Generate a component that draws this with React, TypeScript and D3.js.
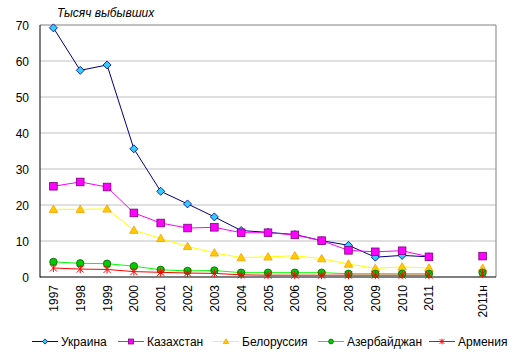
import React from "react";
import * as d3 from "d3";

const categories = ["1997","1998","1999","2000","2001","2002","2003","2004","2005","2006","2007","2008","2009","2010","2011","","2011н"];
const ukraine = [69.2,57.4,58.9,35.6,23.8,20.3,16.7,12.9,12.4,11.8,10.1,8.8,5.5,6.0,5.6,null,null];
const kazakhstan = [25.2,26.4,25.0,17.8,15.0,13.6,13.8,12.3,12.3,11.7,10.1,7.4,7.0,7.3,5.6,null,5.8];
const belarus = [18.8,18.8,18.9,13.0,10.7,8.5,6.7,5.4,5.6,5.9,5.1,3.6,2.4,2.8,2.5,null,2.4];
const azerbaijan = [4.2,3.8,3.7,3.0,2.0,1.7,1.8,1.2,1.2,1.2,1.2,0.9,0.9,0.9,0.9,null,1.2];
const armenia = [2.5,2.2,2.1,1.5,1.3,1.1,1.0,0.6,0.5,0.5,0.5,0.5,0.5,0.5,0.5,null,0.9];
const yTicks = [0,10,20,30,40,50,60,70];
const seriesNames = ["Украина","Казахстан","Белоруссия","Азербайджан","Армения"];

type Series = { name: string; values: (number|null)[]; line: string; fill: string; stroke: string; marker: string };
const series: Series[] = [
  { name: seriesNames[0], values: ukraine, line: "#000080", fill: "#33CCFF", stroke: "#000080", marker: "diamond" },
  { name: seriesNames[1], values: kazakhstan, line: "#FF00FF", fill: "#FF00FF", stroke: "#800080", marker: "square" },
  { name: seriesNames[2], values: belarus, line: "#FFFF00", fill: "#FFCC00", stroke: "#FF9900", marker: "triangle" },
  { name: seriesNames[3], values: azerbaijan, line: "#00FF00", fill: "#00CC00", stroke: "#006600", marker: "circle" },
  { name: seriesNames[4], values: armenia, line: "#FF0000", fill: "none", stroke: "#FF0000", marker: "star" },
];

const W = 518, H = 357;
const L = 40, T = 25, R = 496, B = 277;
const font = "'Liberation Sans', Arial, sans-serif";

function Marker({ kind, x, y, fill, stroke, k = 1 }: { kind: string; x: number; y: number; fill: string; stroke: string; k?: number }) {
  if (kind === "diamond") {
    const s = 4 * k;
    return <path d={`M${x},${y - s}L${x + s},${y}L${x},${y + s}L${x - s},${y}Z`} fill={fill} stroke={stroke} strokeWidth={0.8} />;
  }
  if (kind === "square") {
    const s = 3.8 * k;
    return <rect x={x - s} y={y - s} width={2 * s} height={2 * s} fill={fill} stroke={stroke} strokeWidth={0.8} />;
  }
  if (kind === "triangle") {
    const s = 4.2 * k;
    return <path d={`M${x},${y - s}L${x + s},${y + s * 0.75}L${x - s},${y + s * 0.75}Z`} fill={fill} stroke={stroke} strokeWidth={0.8} />;
  }
  if (kind === "circle") {
    return <circle cx={x} cy={y} r={3.7 * k} fill={fill} stroke={stroke} strokeWidth={0.8} />;
  }
  const s = 3.5 * k;
  return (
    <path
      d={`M${x - s},${y - s}L${x + s},${y + s}M${x - s},${y + s}L${x + s},${y - s}M${x},${y - s - 0.5}L${x},${y + s + 0.5}`}
      stroke={stroke}
      strokeWidth={1}
      fill="none"
    />
  );
}

export default function App() {
  const x = d3.scaleBand<string>().domain(categories.map((c, i) => i + "")).range([L, R]);
  const y = d3.scaleLinear().domain([0, 70]).range([B, T]);
  const cx = (i: number) => (x(i + "") as number) + x.bandwidth() / 2;
  const line = d3
    .line<number | null>()
    .defined((d) => d !== null)
    .x((_, i) => cx(i))
    .y((d) => y(d as number));

  const legendX = [32, 118, 213, 318, 429];
  const legendY = 341.5;

  return (
    <svg width={W} height={H} style={{ position: "absolute", left: 0, top: 0 }}>
      <rect width={W} height={H} fill="#fff" />
      {yTicks.map((t) => (
        <g key={t}>
          {t > 0 && t < 70 && <line x1={L} x2={R} y1={y(t)} y2={y(t)} stroke="#C0C0C0" strokeWidth={1} />}
          <text x={29} y={y(t) + 4.5} textAnchor="end" fontFamily={font} fontSize={12} fill="#000">
            {t}
          </text>
        </g>
      ))}
      <line x1={L} x2={R} y1={T} y2={T} stroke="#808080" />
      <line x1={R} x2={R} y1={T} y2={B} stroke="#808080" />
      <line x1={L} x2={L} y1={T} y2={B + 0.5} stroke="#000" />
      <line x1={L} x2={R} y1={B} y2={B} stroke="#000" strokeWidth={1.2} />
      <text x={57} y={17} fontFamily={font} fontSize={12} fontStyle="italic" fill="#000">
        Тысяч выбывших
      </text>
      {categories.map((c, i) => (
        <text
          key={i}
          transform={`translate(${cx(i) + 4.5},285) rotate(-90)`}
          textAnchor="end"
          fontFamily={font}
          fontSize={12}
          fill="#000"
        >
          {c}
        </text>
      ))}
      {series.map((s) => (
        <g key={s.name}>
          <path d={line(s.values) || ""} fill="none" stroke={s.line} strokeWidth={1} />
          {s.values.map((v, i) =>
            v === null ? null : <Marker key={i} kind={s.marker} x={cx(i)} y={y(v)} fill={s.fill} stroke={s.stroke} />
          )}
        </g>
      ))}
      {series.map((s, k) => (
        <g key={"lg" + k}>
          <line x1={legendX[k]} x2={legendX[k] + 26} y1={legendY} y2={legendY} stroke={s.line} strokeWidth={1} />
          <Marker kind={s.marker} x={legendX[k] + 13} y={legendY} fill={s.fill} stroke={s.stroke} k={0.65} />
          <text x={legendX[k] + 29} y={legendY + 4.5} fontFamily={font} fontSize={12} fill="#000">
            {s.name}
          </text>
        </g>
      ))}
    </svg>
  );
}
